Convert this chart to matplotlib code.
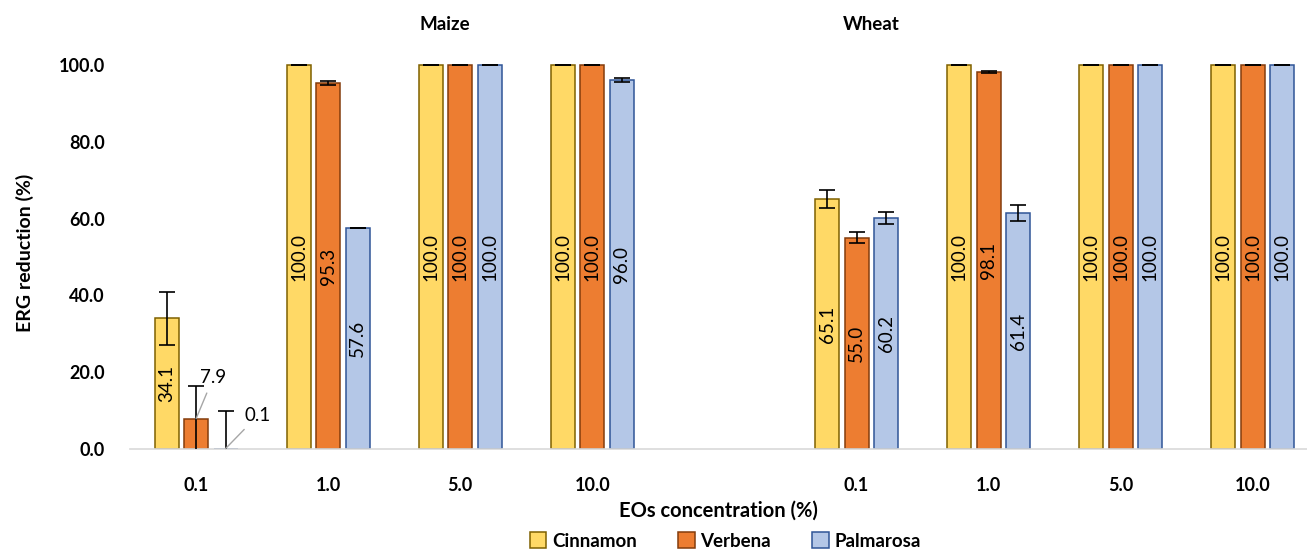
import matplotlib.pyplot as plt
import numpy as np

plt.rcParams['font.family'] = ['Lato', 'DejaVu Sans']

# categories (maize 4, gap, wheat 4)
conc_labels = ['0.1', '1.0', '5.0', '10.0', '0.1', '1.0', '5.0', '10.0']
slots = [0, 1, 2, 3, 5, 6, 7, 8]

cinnamon = [34.1, 100.0, 100.0, 100.0, 65.1, 100.0, 100.0, 100.0]
verbena = [7.9, 95.3, 100.0, 100.0, 55.0, 98.1, 100.0, 100.0]
palmarosa = [0.1, 57.6, 100.0, 96.0, 60.2, 61.4, 100.0, 100.0]

cinnamon_err = [6.9, 0.0, 0.0, 0.0, 2.4, 0.0, 0.0, 0.0]
verbena_err = [8.5, 0.5, 0.0, 0.0, 1.4, 0.3, 0.0, 0.0]
palmarosa_err = [9.8, 0.0, 0.0, 0.5, 1.6, 2.1, 0.0, 0.0]

series = [
    ('Cinnamon', cinnamon, cinnamon_err, '#FFD966', '#7F6000'),
    ('Verbena', verbena, verbena_err, '#ED7D31', '#843C0C'),
    ('Palmarosa', palmarosa, palmarosa_err, '#B4C7E7', '#2F5597'),
]

fig = plt.figure(figsize=(13.07, 5.55), dpi=100)
ax = fig.add_axes([0.0995, 0.191, 0.9005, 0.7059])

x = np.array(slots, dtype=float)
width = 0.182
step = 0.223

for i, (name, vals, errs, fc, ec) in enumerate(series):
    pos = x + (i - 1) * step
    bars = ax.bar(pos, vals, width, color=fc, edgecolor=ec, linewidth=1.1, label=name, zorder=2)
    ax.errorbar(pos, vals, yerr=errs, fmt='none', ecolor='black', elinewidth=1.2,
                capsize=6, capthick=1.2, zorder=3)
    for b, v in zip(bars, vals):
        if v < 20:
            continue
        ax.text(b.get_x() + b.get_width() / 2, v / 2, '%.1f' % v, rotation=90,
                ha='center', va='center', fontsize=13.5, color='black', zorder=4)

# small values labelled outside with leader lines
ax.annotate('7.9', xy=(x[0], verbena[0]), xytext=(x[0] + 0.03, 18.5),
            ha='left', va='center', fontsize=13.5,
            arrowprops=dict(arrowstyle='-', color='#A6A6A6', lw=1, shrinkA=3, shrinkB=0))
ax.annotate('0.1', xy=(x[0] + step, palmarosa[0]), xytext=(x[0] + 0.37, 8.8),
            ha='left', va='center', fontsize=13.5,
            arrowprops=dict(arrowstyle='-', color='#A6A6A6', lw=1, shrinkA=3, shrinkB=0))

ax.set_xlim(-0.5, 8.41)
ax.set_ylim(0, 102)
ax.set_yticks([0, 20, 40, 60, 80, 100])
ax.set_yticklabels(['%.1f' % v for v in [0, 20, 40, 60, 80, 100]], fontweight='bold', fontsize=13)
ax.set_xticks(x)
ax.set_xticklabels(conc_labels, fontweight='bold', fontsize=13)
ax.tick_params(axis='x', length=0, pad=20)
ax.tick_params(axis='y', length=0, pad=18)

for s in ['top', 'right', 'left']:
    ax.spines[s].set_visible(False)
ax.spines['bottom'].set_color('#D9D9D9')
ax.spines['bottom'].set_linewidth(1.2)

ax.set_ylabel('ERG reduction (%)', fontweight='bold', fontsize=14, labelpad=18)
ax.set_xlabel('EOs concentration (%)', fontweight='bold', fontsize=14.5, labelpad=5)

fig.text(445 / 1307, 1 - 25 / 555, 'Maize', ha='center', va='center', fontweight='bold', fontsize=13.5)
fig.text(871 / 1307, 1 - 25 / 555, 'Wheat', ha='center', va='center', fontweight='bold', fontsize=13.5)

fig.legend(loc='center', bbox_to_anchor=(0.555, 1 - 541 / 555), ncol=3, frameon=False,
           prop={'weight': 'bold', 'size': 13.5}, columnspacing=2.2, handlelength=0.9,
           handleheight=0.9, handletextpad=0.3)

fig.savefig('out.png', dpi=100)
